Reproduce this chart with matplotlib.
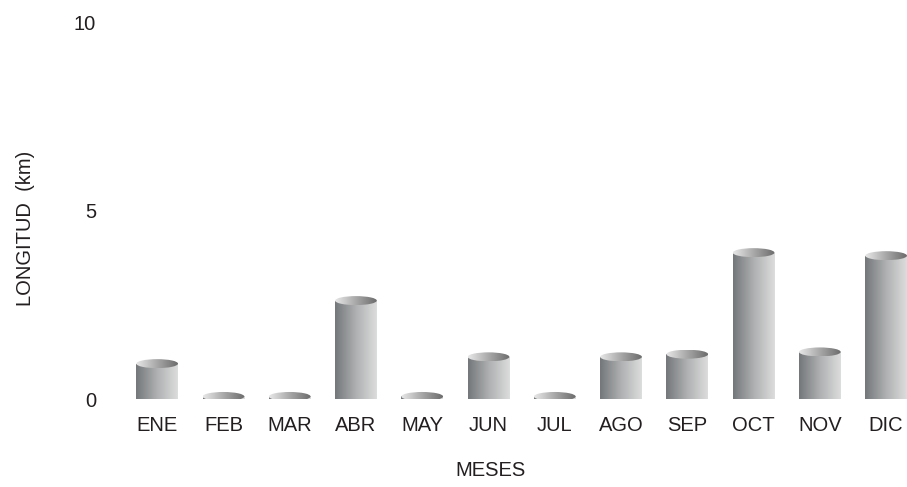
import numpy as np
import matplotlib
matplotlib.use("Agg")
import matplotlib.pyplot as plt
from matplotlib.patches import Rectangle, Ellipse
from matplotlib.colors import LinearSegmentedColormap

plt.rcParams['font.family'] = ['Liberation Sans', 'DejaVu Sans']

meses = ['ENE', 'FEB', 'MAR', 'ABR', 'MAY', 'JUN', 'JUL', 'AGO', 'SEP', 'OCT', 'NOV', 'DIC']
longitud = [0.95, 0.08, 0.08, 2.62, 0.08, 1.13, 0.08, 1.13, 1.2, 3.89, 1.26, 3.81]
yticks = [0, 5, 10]

W, H = 907, 487
fig = plt.figure(figsize=(W / 100, H / 100), dpi=100)
# axes in pixels: left 124, right 907, y=0 at 399.5, y=10 at 22
ax = fig.add_axes([124 / W, (H - 399.5) / H, (907 - 124) / W, (399.5 - 22) / H])
slot = 66.27

body_cmap = LinearSegmentedColormap.from_list('body', ['#74777a', '#aeb0b1', '#dddddd'])
top_cmap = LinearSegmentedColormap.from_list('top', ['#e8e8e8', '#a8a8a8', '#6c6c6c'])
grad = np.linspace(0, 1, 256).reshape(1, -1)

bw = 0.63
eh = 9 / 37.75  # ellipse height in data units

for i, v in enumerate(longitud):
    x0 = i - bw / 2
    x1 = i + bw / 2
    rect = Rectangle((x0, 0), bw, v, transform=ax.transData, facecolor='none', edgecolor='none')
    ax.add_patch(rect)
    im = ax.imshow(grad, extent=(x0, x1, 0, v), aspect='auto', cmap=body_cmap,
                   interpolation='bilinear', zorder=2)
    im.set_clip_path(rect)
    el = Ellipse((i, v), bw, eh, transform=ax.transData, facecolor='none', edgecolor='none')
    ax.add_patch(el)
    im2 = ax.imshow(grad, extent=(x0, x1, v - eh / 2, v + eh / 2), aspect='auto', cmap=top_cmap,
                    interpolation='bilinear', zorder=3)
    im2.set_clip_path(el)

ax.set_xlim(-0.5, -0.5 + 783 / slot)
ax.set_ylim(0, 10)

for s in ax.spines.values():
    s.set_visible(False)
ax.set_xticks(range(len(meses)))
ax.set_xticklabels(meses)
ax.set_yticks(yticks)
ax.set_yticklabels([str(t) for t in yticks])
ax.tick_params(axis='both', length=0, labelsize=14.5, colors='#231f20')
ax.tick_params(axis='x', pad=12)
ax.tick_params(axis='y', pad=20)
ax.patch.set_visible(False)

fig.text(26 / W, 1 - 228 / H, 'LONGITUD  (km)', rotation=90, ha='center', va='center',
         fontsize=14.5, color='#231f20')
fig.text(490 / W, 1 - 471 / H, 'MESES', ha='center', va='center', fontsize=14.5, color='#231f20')

fig.savefig('out.png', dpi=100)
